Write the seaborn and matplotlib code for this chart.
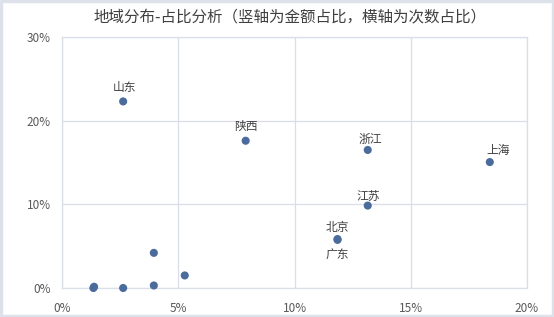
import matplotlib
matplotlib.use("Agg")
import matplotlib.pyplot as plt
import seaborn as sns
import pandas as pd
from matplotlib.patches import Rectangle
from matplotlib.ticker import FuncFormatter

sns.set_theme(style="white")
plt.rcParams['font.family'] = ['Noto Sans CJK SC', 'DejaVu Sans']

regions = ["山东", "陕西", "浙江", "上海", "江苏", "北京", "广东", "", "", "", "", "", ""]
count_share = [2.63, 7.9, 13.15, 18.4, 13.15, 11.85, 11.85, 1.35, 1.38, 2.63, 3.95, 3.95, 5.28]
amount_share = [22.3, 17.6, 16.5, 15.05, 9.85, 5.85, 5.75, 0.0, 0.15, 0.0, 4.2, 0.3, 1.5]

x_ticks = [0, 5, 10, 15, 20]
y_ticks = [0, 10, 20, 30]
title = "地域分布-占比分析（竖轴为金额占比，横轴为次数占比）"

df = pd.DataFrame({"region": regions, "x": count_share, "y": amount_share})

fig = plt.figure(figsize=(5.54, 3.17), dpi=100)
fig.patch.set_facecolor("white")
ax = fig.add_axes([62/554, 1-288/317, (527-62)/554, (288-37)/317])

sns.scatterplot(data=df, x="x", y="y", ax=ax, color="#4A6B9B", s=34,
                edgecolor="none", zorder=3, legend=False, clip_on=False)

ax.set_xlim(x_ticks[0], x_ticks[-1])
ax.set_ylim(y_ticks[0], y_ticks[-1])
ax.set_xticks(x_ticks)
ax.set_yticks(y_ticks)
ax.xaxis.set_major_formatter(FuncFormatter(lambda v, p: f"{v:.0f}%"))
ax.yaxis.set_major_formatter(FuncFormatter(lambda v, p: f"{v:.0f}%"))
ax.set_xlabel("")
ax.set_ylabel("")
ax.tick_params(axis="both", labelsize=8.5, colors="#595959", length=0, pad=10)
ax.tick_params(axis="y", pad=8)
ax.grid(True, color="#D9DEE8", linewidth=0.9, zorder=0)
for s in ax.spines.values():
    s.set_color("#D9DEE8")
    s.set_linewidth(0.9)

offsets = {"山东": (1, 10), "陕西": (0, 10), "浙江": (2, 7.5), "上海": (6, 8),
           "江苏": (0, 6.5), "北京": (0, 8), "广东": (0, -11)}
for r, xv, yv in zip(regions, count_share, amount_share):
    if not r:
        continue
    dx, dy = offsets[r]
    ax.annotate(r, (xv, yv), xytext=(dx, dy), textcoords="offset points",
                ha="center", va="center", fontsize=8.5, color="#404040", zorder=4)

fig.text(290/554, 1-17/317, title, ha="center", va="center", fontsize=11.2, color="#404040")

fig.add_artist(Rectangle((0.002, 0.003), 0.996, 0.994, transform=fig.transFigure,
                         fill=False, edgecolor="#DDE2EA", linewidth=2.5))

fig.savefig("out.png", dpi=100)
